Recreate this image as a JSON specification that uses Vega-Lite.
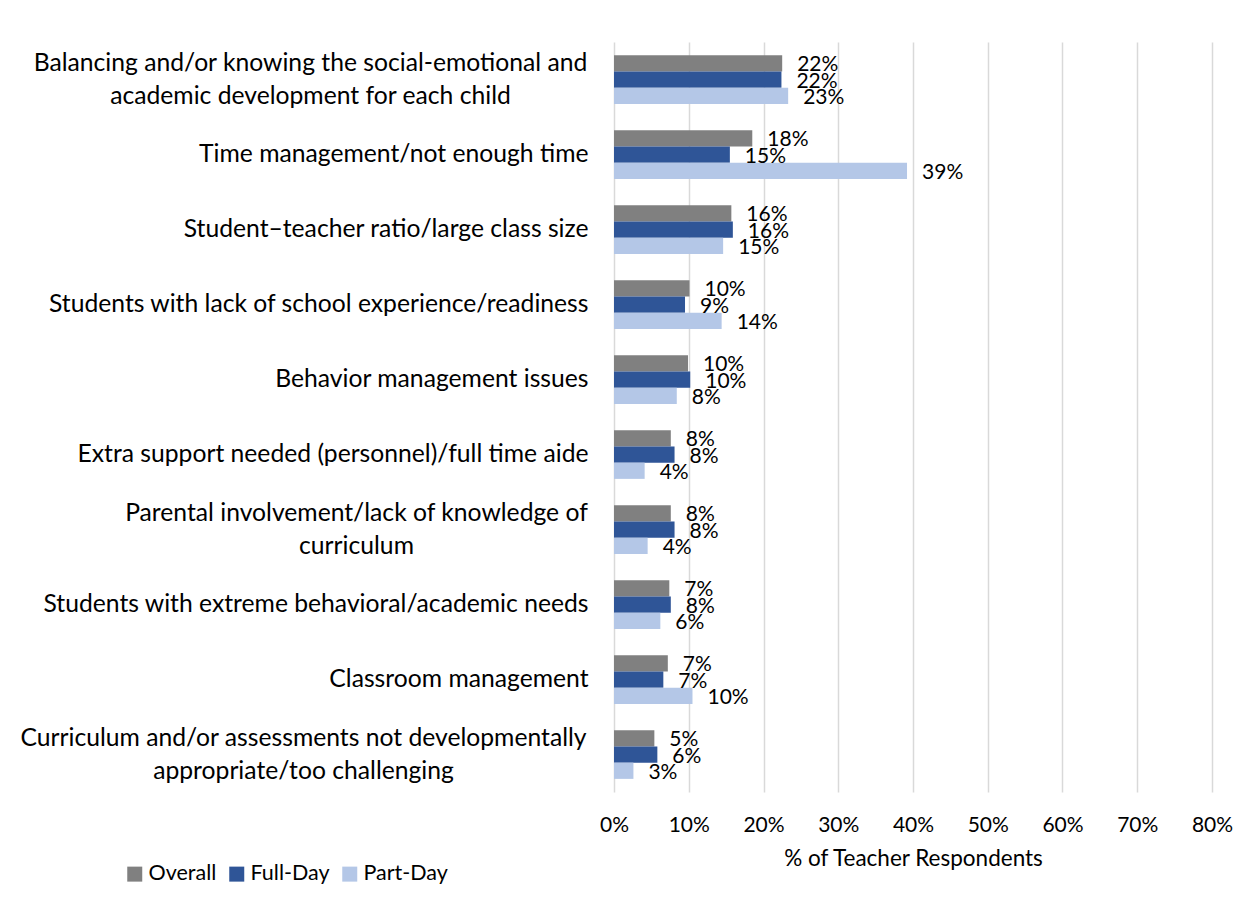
{
  "$schema": "https://vega.github.io/schema/vega-lite/v6.json",
  "width": 598,
  "height": 750,
  "autosize": {"type": "none"},
  "padding": {"left": 614, "top": 42, "right": 36, "bottom": 120},
  "background": "white",
  "config": {
    "font": "Lato",
    "view": {"stroke": null},
    "axis": {"labelFont": "Lato", "titleFont": "Lato", "labelColor": "#000000", "titleColor": "#000000"}
  },
  "data": {
    "values": [
      {"cat": "Balancing and/or knowing the social-emotional and|academic development for each child", "series": "Overall", "value": 0.225, "label": "22%"},
      {"cat": "Balancing and/or knowing the social-emotional and|academic development for each child", "series": "Full-Day", "value": 0.224, "label": "22%"},
      {"cat": "Balancing and/or knowing the social-emotional and|academic development for each child", "series": "Part-Day", "value": 0.233, "label": "23%"},
      {"cat": "Time management/not enough time", "series": "Overall", "value": 0.185, "label": "18%"},
      {"cat": "Time management/not enough time", "series": "Full-Day", "value": 0.155, "label": "15%"},
      {"cat": "Time management/not enough time", "series": "Part-Day", "value": 0.392, "label": "39%"},
      {"cat": "Student–teacher ratio/large class size", "series": "Overall", "value": 0.157, "label": "16%"},
      {"cat": "Student–teacher ratio/large class size", "series": "Full-Day", "value": 0.159, "label": "16%"},
      {"cat": "Student–teacher ratio/large class size", "series": "Part-Day", "value": 0.146, "label": "15%"},
      {"cat": "Students with lack of school experience/readiness", "series": "Overall", "value": 0.101, "label": "10%"},
      {"cat": "Students with lack of school experience/readiness", "series": "Full-Day", "value": 0.095, "label": "9%"},
      {"cat": "Students with lack of school experience/readiness", "series": "Part-Day", "value": 0.144, "label": "14%"},
      {"cat": "Behavior management issues", "series": "Overall", "value": 0.099, "label": "10%"},
      {"cat": "Behavior management issues", "series": "Full-Day", "value": 0.102, "label": "10%"},
      {"cat": "Behavior management issues", "series": "Part-Day", "value": 0.084, "label": "8%"},
      {"cat": "Extra support needed (personnel)/full time aide", "series": "Overall", "value": 0.076, "label": "8%"},
      {"cat": "Extra support needed (personnel)/full time aide", "series": "Full-Day", "value": 0.081, "label": "8%"},
      {"cat": "Extra support needed (personnel)/full time aide", "series": "Part-Day", "value": 0.041, "label": "4%"},
      {"cat": "Parental involvement/lack of knowledge of|curriculum", "series": "Overall", "value": 0.076, "label": "8%"},
      {"cat": "Parental involvement/lack of knowledge of|curriculum", "series": "Full-Day", "value": 0.081, "label": "8%"},
      {"cat": "Parental involvement/lack of knowledge of|curriculum", "series": "Part-Day", "value": 0.045, "label": "4%"},
      {"cat": "Students with extreme behavioral/academic needs", "series": "Overall", "value": 0.074, "label": "7%"},
      {"cat": "Students with extreme behavioral/academic needs", "series": "Full-Day", "value": 0.076, "label": "8%"},
      {"cat": "Students with extreme behavioral/academic needs", "series": "Part-Day", "value": 0.062, "label": "6%"},
      {"cat": "Classroom management", "series": "Overall", "value": 0.072, "label": "7%"},
      {"cat": "Classroom management", "series": "Full-Day", "value": 0.066, "label": "7%"},
      {"cat": "Classroom management", "series": "Part-Day", "value": 0.105, "label": "10%"},
      {"cat": "Curriculum and/or assessments not developmentally|appropriate/too challenging", "series": "Overall", "value": 0.054, "label": "5%"},
      {"cat": "Curriculum and/or assessments not developmentally|appropriate/too challenging", "series": "Full-Day", "value": 0.058, "label": "6%"},
      {"cat": "Curriculum and/or assessments not developmentally|appropriate/too challenging", "series": "Part-Day", "value": 0.026, "label": "3%"}
    ]
  },
  "encoding": {
    "y": {
      "field": "cat",
      "type": "nominal",
      "sort": null,
      "scale": {"paddingInner": 0.35, "paddingOuter": 0.175},
      "axis": {
        "title": null,
        "ticks": false,
        "domain": false,
        "labelFontSize": 24.7,
        "labelLimit": 700,
        "labelPadding": {"condition": [
          {"test": "indexof(datum.value, 'Balancing') == 0", "value": 304},
          {"test": "indexof(datum.value, 'Parental') == 0", "value": 258},
          {"test": "indexof(datum.value, 'Curriculum') == 0", "value": 311}
        ], "value": 26},
        "labelAlign": {"condition": {"test": "indexof(datum.value, '|') >= 0", "value": "center"}, "value": "right"},
        "labelOffset": {"condition": {"test": "indexof(datum.value, '|') >= 0", "value": -16}, "value": 0},
        "labelLineHeight": 33,
        "labelExpr": "split(datum.label, '|')"
      }
    },
    "yOffset": {"field": "series", "type": "nominal", "sort": ["Overall", "Full-Day", "Part-Day"]},
    "x": {
      "field": "value",
      "type": "quantitative",
      "scale": {"domain": [0, 0.8], "nice": false},
      "axis": {
        "title": "% of Teacher Respondents",
        "format": ".0%",
        "values": [0, 0.1, 0.2, 0.3, 0.4, 0.5, 0.6, 0.7, 0.8],
        "labelOverlap": false,
        "labelFlush": false,
        "ticks": false,
        "domain": false,
        "grid": true,
        "gridColor": "#D9D9D9",
        "gridWidth": 1.5,
        "labelFontSize": 21,
        "labelPadding": 22,
        "titleFontSize": 22.5,
        "titleFontWeight": "normal",
        "titlePadding": 12
      }
    }
  },
  "layer": [
    {
      "mark": {"type": "bar"},
      "encoding": {
        "color": {
          "field": "series",
          "type": "nominal",
          "scale": {"domain": ["Overall", "Full-Day", "Part-Day"], "range": ["#808080", "#2F5597", "#B4C7E7"]},
          "legend": {
            "title": null,
            "orient": "none",
            "direction": "horizontal",
            "legendX": -490,
            "legendY": 821,
            "padding": 0,
            "symbolType": "square",
            "symbolSize": 225,
            "symbolStrokeWidth": 0,
            "labelFontSize": 21.5,
            "labelFont": "Lato",
            "labelColor": "#000000",
            "labelOffset": 3,
            "columnPadding": 9
          }
        }
      }
    },
    {
      "mark": {"type": "text", "align": "left", "baseline": "middle", "dx": 15, "dy": 2, "fontSize": 21, "font": "Lato", "color": "#000000"},
      "encoding": {"text": {"field": "label"}}
    }
  ]
}
